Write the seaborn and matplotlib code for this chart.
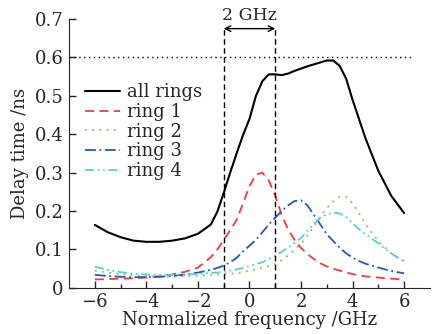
import numpy as np
import pandas as pd
import seaborn as sns
import matplotlib.pyplot as plt

# values
freq = [-6, -5.5, -5, -4.5, -4, -3.5, -3, -2.5, -2, -1.5, -1.25, -1, -0.75, -0.5, -0.25, 0, 0.25, 0.5, 0.75,
        1, 1.25, 1.5, 1.75, 2, 2.25, 2.5, 2.75, 3, 3.25, 3.5, 3.75, 4, 4.25, 4.5, 5, 5.5, 6]
all_rings = [0.164, 0.145, 0.132, 0.123, 0.12, 0.12, 0.123, 0.129, 0.141, 0.165, 0.198, 0.247, 0.3, 0.35, 0.398, 0.44,
             0.5, 0.538, 0.556, 0.556, 0.554, 0.558, 0.565, 0.571, 0.577, 0.582, 0.587, 0.592, 0.592, 0.578, 0.545,
             0.49, 0.44, 0.39, 0.305, 0.24, 0.195]
ring1 = [0.022, 0.023, 0.024, 0.025, 0.027, 0.03, 0.035, 0.042, 0.053, 0.08, 0.1, 0.125, 0.15, 0.177, 0.22, 0.265,
         0.295, 0.3, 0.28, 0.24, 0.19, 0.152, 0.125, 0.104, 0.088, 0.075, 0.064, 0.056, 0.05, 0.045, 0.04,
         0.036, 0.033, 0.03, 0.027, 0.024, 0.022]
ring2 = [0.045, 0.04, 0.036, 0.033, 0.031, 0.03, 0.03, 0.031, 0.032, 0.034, 0.035, 0.036, 0.037, 0.038, 0.041, 0.045,
         0.048, 0.052, 0.057, 0.062, 0.072, 0.085, 0.099, 0.115, 0.137, 0.16, 0.185, 0.208, 0.225, 0.237, 0.237,
         0.22, 0.195, 0.166, 0.122, 0.09, 0.07]
ring3 = [0.034, 0.031, 0.029, 0.028, 0.028, 0.029, 0.031, 0.035, 0.04, 0.047, 0.052, 0.058, 0.067, 0.078, 0.095, 0.11,
         0.125, 0.145, 0.165, 0.183, 0.2, 0.215, 0.226, 0.228, 0.215, 0.19, 0.165, 0.14, 0.122, 0.105, 0.09,
         0.079, 0.07, 0.063, 0.053, 0.044, 0.038]
ring4 = [0.055, 0.047, 0.041, 0.037, 0.035, 0.034, 0.034, 0.035, 0.036, 0.039, 0.04, 0.042, 0.045, 0.048, 0.052, 0.057,
         0.062, 0.067, 0.075, 0.084, 0.094, 0.105, 0.117, 0.13, 0.148, 0.167, 0.182, 0.192, 0.196, 0.194, 0.185,
         0.168, 0.153, 0.14, 0.116, 0.09, 0.068]

labels = ['all rings', 'ring 1', 'ring 2', 'ring 3', 'ring 4']
colors = ['black', '#f23a3a', '#7cc850', '#2457b8', '#5ccbd6']
dashes = ['-', (0, (5, 3)), (0, (1, 3)), (0, (6, 2, 1, 2)), (0, (5, 2, 1, 2, 1, 2))]

df = pd.DataFrame({'freq': freq, 'all rings': all_rings, 'ring 1': ring1,
                   'ring 2': ring2, 'ring 3': ring3, 'ring 4': ring4})
long = df.melt(id_vars='freq', var_name='curve', value_name='delay')

sns.set_style('ticks')
plt.rcParams['font.family'] = ['DejaVu Serif']

fig = plt.figure(figsize=(4.32, 3.34), dpi=100)
ax = fig.add_axes([0.16, 0.138, 0.835, 0.805])

for lab, col, ls in zip(labels, colors, dashes):
    sns.lineplot(data=long[long['curve'] == lab], x='freq', y='delay', ax=ax,
                 color=col, linewidth=1.5 if lab == 'all rings' else 1.3, label=lab)
    ax.lines[-1].set_linestyle(ls)

ax.axhline(0.6, xmin=0, xmax=(6.4 + 7) / 14, color='black', linestyle=(0, (1, 2.5)), linewidth=1)
for xv in (-1, 1):
    ax.plot([xv, xv], [0, 0.68], color='black', linestyle=(0, (4, 2.5)), linewidth=1)
ax.annotate('', xy=(-1, 0.675), xytext=(1, 0.675),
            arrowprops=dict(arrowstyle='<->', color='black', lw=1, shrinkA=0, shrinkB=0))
ax.text(0, 0.71, '2 GHz', ha='center', va='center', fontsize=12.5, clip_on=False)

ax.set_xlim(-7, 7)
ax.set_ylim(0, 0.7)
ax.set_xticks([-6, -4, -2, 0, 2, 4, 6])
ax.set_xticklabels(['\u22126', '\u22124', '\u22122', '0', '2', '4', '6'])
ax.set_xticks([-5, -3, -1, 1, 3, 5], minor=True)
ax.set_yticks([0, 0.1, 0.2, 0.3, 0.4, 0.5, 0.6, 0.7])
ax.set_yticklabels(['0', '0.1', '0.2', '0.3', '0.4', '0.5', '0.6', '0.7'])
ax.tick_params(direction='in', labelsize=13, length=5, width=1, pad=4)
ax.tick_params(which='minor', direction='in', length=3, width=1)
ax.set_xlabel('Normalized frequency /GHz', fontsize=13, labelpad=0)
ax.set_ylabel('Delay time /ns', fontsize=13, labelpad=4)
sns.despine(ax=ax)

leg = ax.legend(loc='upper left', bbox_to_anchor=(0.045, 0.762), frameon=False, fontsize=13,
                handlelength=1.9, handletextpad=0.4, labelspacing=0.1, borderaxespad=0,
                borderpad=0)
for h, ls in zip(leg.get_lines(), dashes):
    h.set_linestyle(ls)

fig.savefig('out.png', dpi=100)
